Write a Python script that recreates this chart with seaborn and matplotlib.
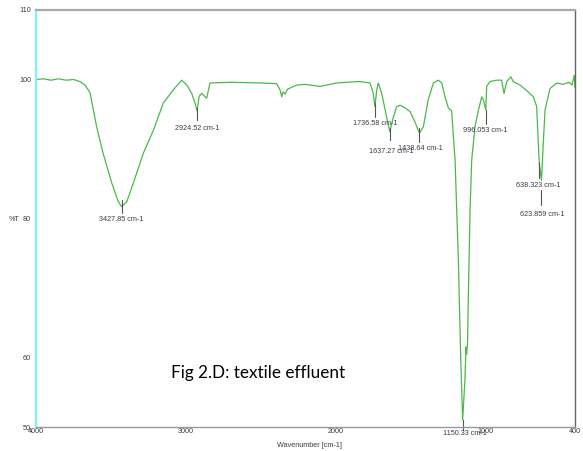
import numpy as np
import pandas as pd
import matplotlib
matplotlib.use("Agg")
import matplotlib.pyplot as plt
import seaborn as sns

# ---- data ----
wavenumber = [4000, 3950, 3900, 3850, 3800, 3750, 3706, 3673, 3639, 3595, 3552, 3494,
              3450, 3428, 3394, 3350, 3283, 3216, 3150, 3083, 3027, 2993, 2960, 2938,
              2924.5, 2910, 2893, 2860, 2845, 2838, 2700, 2500, 2393, 2370, 2359, 2350,
              2337, 2320, 2259, 2200, 2103, 1992, 1858, 1836, 1769, 1747, 1736.6, 1724,
              1714, 1691, 1658, 1637.3, 1613, 1591, 1569, 1550, 1535, 1502, 1469, 1447,
              1438.6, 1413, 1380, 1346, 1313, 1290, 1268, 1246, 1224, 1201, 1179, 1163,
              1150.3, 1135, 1128, 1124, 1118, 1112, 1101, 1090, 1068, 1045, 1023, 1012,
              996, 990, 968, 923, 890, 874, 856, 829, 812, 767, 712, 678, 656, 645,
              638.3, 623.9, 612, 600, 567, 522, 480, 440, 420, 405, 400]
transmittance = [100.0, 100.1, 99.9, 100.1, 99.9, 100.0, 99.7, 99.2, 98.1, 93.2, 89.4, 85.1,
                 82.4, 81.7, 82.4, 85.1, 89.4, 92.7, 96.6, 98.5, 99.9, 99.2, 98.0, 96.6,
                 95.5, 97.6, 98.0, 97.3, 98.8, 99.5, 99.6, 99.5, 99.4, 98.5, 97.5, 98.2,
                 97.9, 98.6, 99.2, 99.3, 99.0, 99.5, 99.7, 99.7, 99.5, 98.0, 96.1, 98.5,
                 99.5, 98.0, 94.6, 92.5, 94.6, 96.1, 96.3, 96.1, 95.9, 95.4, 93.9, 92.7,
                 92.3, 93.2, 97.1, 99.5, 99.9, 99.5, 97.5, 95.9, 95.5, 88.4, 74.0, 59.6,
                 51.0, 56.8, 61.5, 60.5, 62.0, 69.2, 81.2, 88.4, 93.2, 95.6, 97.5, 97.1,
                 95.6, 99.0, 99.7, 99.9, 99.9, 98.0, 99.7, 100.4, 99.7, 99.2, 98.2, 97.5, 96.1, 90.8,
                 87.9, 85.5, 90.8, 95.6, 98.7, 99.5, 99.3, 99.6, 99.2, 100.6, 98.8]

peak_wn = [3427.85, 2924.52, 1736.58, 1637.27, 1438.64, 1150.33, 996.053, 638.323, 623.859]
peak_labels = ["3427.85 cm-1", "2924.52 cm-1", "1736.58 cm-1", "1637.27 cm-1",
               "1438.64 cm-1", "1150.33 cm-1", "996.053 cm-1", "638.323 cm-1",
               "623.859 cm-1"]
# (tick top, tick bottom, label x, label y) in data units
peak_tick_top = [82.7, 95.9, 96.6, 93.0, 93.0, 51.0, 95.6, 88.0, 84.1]
peak_tick_bot = [80.8, 94.2, 94.6, 91.3, 91.0, 49.6, 93.6, 85.8, 81.9]
peak_label_x = [3427.85, 2924.52, 1736.58, 1629, 1432, 1135, 998, 644, 617]
peak_label_y = [79.8, 93.0, 93.7, 89.6, 90.1, 49.1, 92.7, 84.8, 80.6]

x_ticks = [4000, 3000, 2000, 1000, 400]
x_minor = [3500, 2500, 1500, 500]
y_ticks = [50, 60, 80, 100, 110]

df = pd.DataFrame({"Wavenumber": wavenumber, "T": transmittance})

sns.set_style("white")
plt.rcParams["font.family"] = ["Liberation Sans", "DejaVu Sans"]

fig = plt.figure(figsize=(5.83, 4.51), dpi=100)
ax = fig.add_axes([36 / 583, 24 / 451, 539 / 583, 417 / 451])

sns.lineplot(data=df, x="Wavenumber", y="T", sort=False, ax=ax,
             color="#4cb84c", linewidth=0.9, estimator=None)

ax.set_xlim(4000, 400)
ax.set_ylim(50, 110)

txt_color = "#3a3a48"
for wn, lab, t0, t1, lx, ly in zip(peak_wn, peak_labels, peak_tick_top, peak_tick_bot,
                                    peak_label_x, peak_label_y):
    ax.plot([wn, wn], [t0, t1], color="#555555", linewidth=0.8, clip_on=False)
    ax.text(lx, ly, lab, fontsize=5.2, color=txt_color, ha="center", va="center",
            clip_on=False)

ax.set_xticks(x_ticks)
ax.set_xticklabels([str(v) for v in x_ticks])
ax.set_xticks(x_minor, minor=True)
ax.set_yticks(y_ticks)
ax.set_yticklabels([str(v) for v in y_ticks])
ax.set_yticks([70, 90], minor=True)
ax.tick_params(axis="x", which="both", direction="in", length=3, width=0.6,
               color="#666666", labelsize=5.2, labelcolor=txt_color, pad=1)
ax.tick_params(axis="y", which="both", direction="out", length=2.5, width=0.6,
               color="#666666", labelsize=5.2, labelcolor=txt_color, pad=1)

ax.set_xlabel("Wavenumber [cm-1]", fontsize=5.2, color=txt_color, labelpad=0)
ax.set_ylabel("%T", fontsize=5.2, color=txt_color, rotation=0, labelpad=6)
ax.yaxis.set_label_coords(-0.04, 0.49)
ax.xaxis.set_label_coords(0.508, -0.035)

ax.spines["left"].set_color("#7ff5f5")
ax.spines["left"].set_linewidth(1.6)
ax.spines["top"].set_color("#aaaaaa")
ax.spines["top"].set_linewidth(1.6)
ax.spines["right"].set_color("#666666")
ax.spines["right"].set_linewidth(1.0)
ax.spines["bottom"].set_color("#999999")
ax.spines["bottom"].set_linewidth(1.0)

ax.text(0.25, 0.13, "Fig 2.D: textile effluent", fontsize=12.3, family="Lato",
        color="black", ha="left", va="center", transform=ax.transAxes)

fig.savefig("out.png", dpi=100)
